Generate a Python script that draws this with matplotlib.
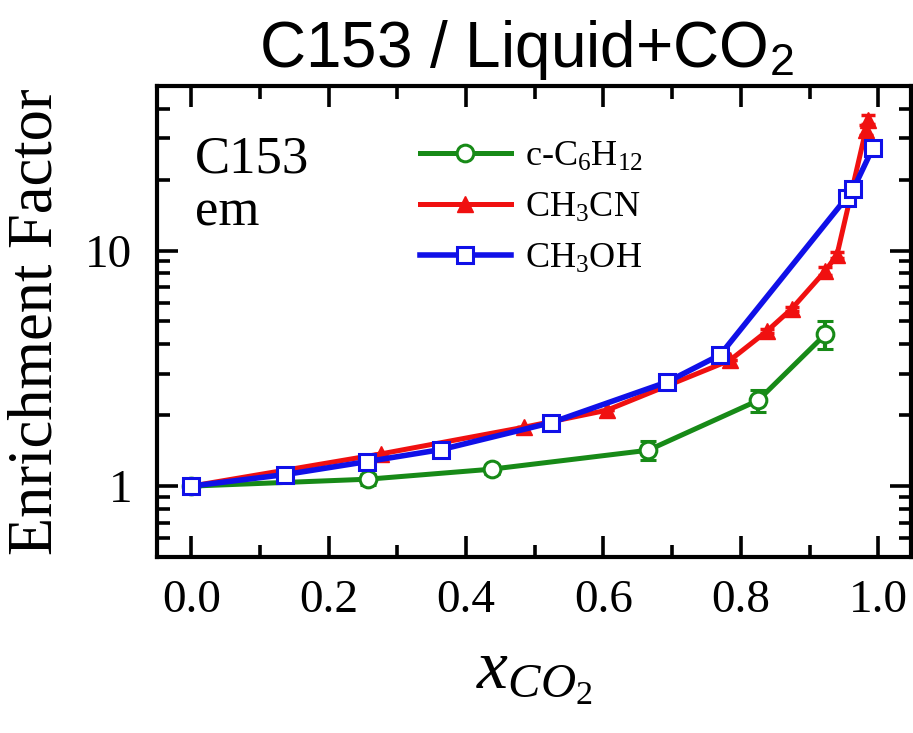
import matplotlib
matplotlib.use("Agg")
import matplotlib.pyplot as plt
from matplotlib.ticker import LogLocator, NullFormatter, FixedLocator

# ── Data ────────────────────────────────────────────────────────────

x_c6h12 = [0.0, 0.257, 0.437, 0.665, 0.825, 0.923]
y_c6h12 = [1.0, 1.07, 1.18, 1.42, 2.31, 4.41]
e_c6h12 = [0.0, 0.06, 0.05, 0.13, 0.25, 0.6]

x_ch3cn = [0.0, 0.276, 0.485, 0.605, 0.784, 0.838, 0.874, 0.923, 0.940, 0.982, 0.985]
y_ch3cn = [1.0, 1.37, 1.78, 2.10, 3.42, 4.55, 5.66, 8.2, 9.6, 32.5, 36.0]
e_ch3cn = [0.0, 0.0, 0.0, 0.0, 0.0, 0.1, 0.1, 0.3, 0.3, 1.5, 1.5]

x_ch3oh = [0.0, 0.137, 0.255, 0.364, 0.524, 0.693, 0.770, 0.954, 0.964, 0.992]
y_ch3oh = [1.0, 1.12, 1.27, 1.43, 1.86, 2.77, 3.61, 16.8, 18.3, 27.2]

labels = [r"c-C$_6$H$_{12}$", r"CH$_3$CN", r"CH$_3$OH"]

x_ticks = [0.0, 0.2, 0.4, 0.6, 0.8, 1.0]
x_ticklabels = ["0.0", "0.2", "0.4", "0.6", "0.8", "1.0"]
y_ticks = [1, 10]
y_ticklabels = ["1", "10"]

# ── Style ───────────────────────────────────────────────────────────

plt.rcParams["font.family"] = ["Liberation Serif", "DejaVu Serif"]
plt.rcParams["mathtext.fontset"] = "custom"
plt.rcParams["mathtext.rm"] = "Liberation Serif"
plt.rcParams["mathtext.it"] = "Liberation Serif:italic"
plt.rcParams["mathtext.sf"] = "Liberation Sans"

GREEN = "#178A17"
RED = "#F01010"
BLUE = "#1010E8"

fig = plt.figure(figsize=(9.13, 7.33), dpi=100)
ax = fig.add_axes([0.172, 0.2401, 0.826, 0.6426])

eb_g = ax.errorbar(x_c6h12, y_c6h12, yerr=e_c6h12, color=GREEN, lw=3.6, marker="o",
                   ms=12, mfc="white", mec=GREEN, mew=2.2, capsize=6, capthick=3,
                   elinewidth=3, zorder=3)
eb_r = ax.errorbar(x_ch3cn, y_ch3cn, yerr=e_ch3cn, color=RED, lw=3.6, marker="^",
                   ms=11, mfc=RED, mec=RED, capsize=5, capthick=2.5,
                   elinewidth=2.5, zorder=4)
ln_b, = ax.plot(x_ch3oh, y_ch3oh, color=BLUE, lw=4, marker="s", ms=12,
                mfc="white", mec=BLUE, mew=2.2, zorder=5)

ax.set_yscale("log")
ax.set_xlim(-0.05, 1.048)
ax.set_ylim(0.5, 50)

ax.xaxis.set_major_locator(FixedLocator(x_ticks))
ax.set_xticklabels(x_ticklabels)
ax.xaxis.set_minor_locator(FixedLocator([0.1, 0.3, 0.5, 0.7, 0.9]))
ax.yaxis.set_major_locator(FixedLocator(y_ticks))
ax.set_yticklabels(y_ticklabels)
ax.yaxis.set_minor_locator(LogLocator(base=10, subs=range(2, 10)))
ax.yaxis.set_minor_formatter(NullFormatter())

ax.tick_params(which="both", direction="in", top=True, right=True, width=2.6)
ax.tick_params(which="major", length=15, labelsize=34)
ax.tick_params(axis="x", which="major", pad=16)
ax.tick_params(axis="y", which="major", pad=18)
ax.tick_params(which="minor", length=9)
for s in ax.spines.values():
    s.set_linewidth(3)

ax.set_ylabel("Enrichment Factor", fontsize=45, labelpad=14)
ax.set_xlabel(r"$x_{CO_2}$", fontsize=50, labelpad=16)
ax.set_title(r"C153 / Liquid+CO$_\mathsf{2}$", fontsize=46,
             fontfamily="Liberation Sans", pad=14, x=0.49)

ax.text(0.05, 0.816, "C153", transform=ax.transAxes, fontsize=38, va="baseline")
ax.text(0.05, 0.703, "em", transform=ax.transAxes, fontsize=38, va="baseline")

ax.legend([eb_g[0], eb_r[0], ln_b], labels, loc="upper left",
          bbox_to_anchor=(0.349, 0.885), frameon=False,
          fontsize=26, numpoints=1, handlelength=2.5, handletextpad=0.4,
          labelspacing=0.5, borderpad=0, borderaxespad=0)

fig.savefig("out.png", dpi=100)
